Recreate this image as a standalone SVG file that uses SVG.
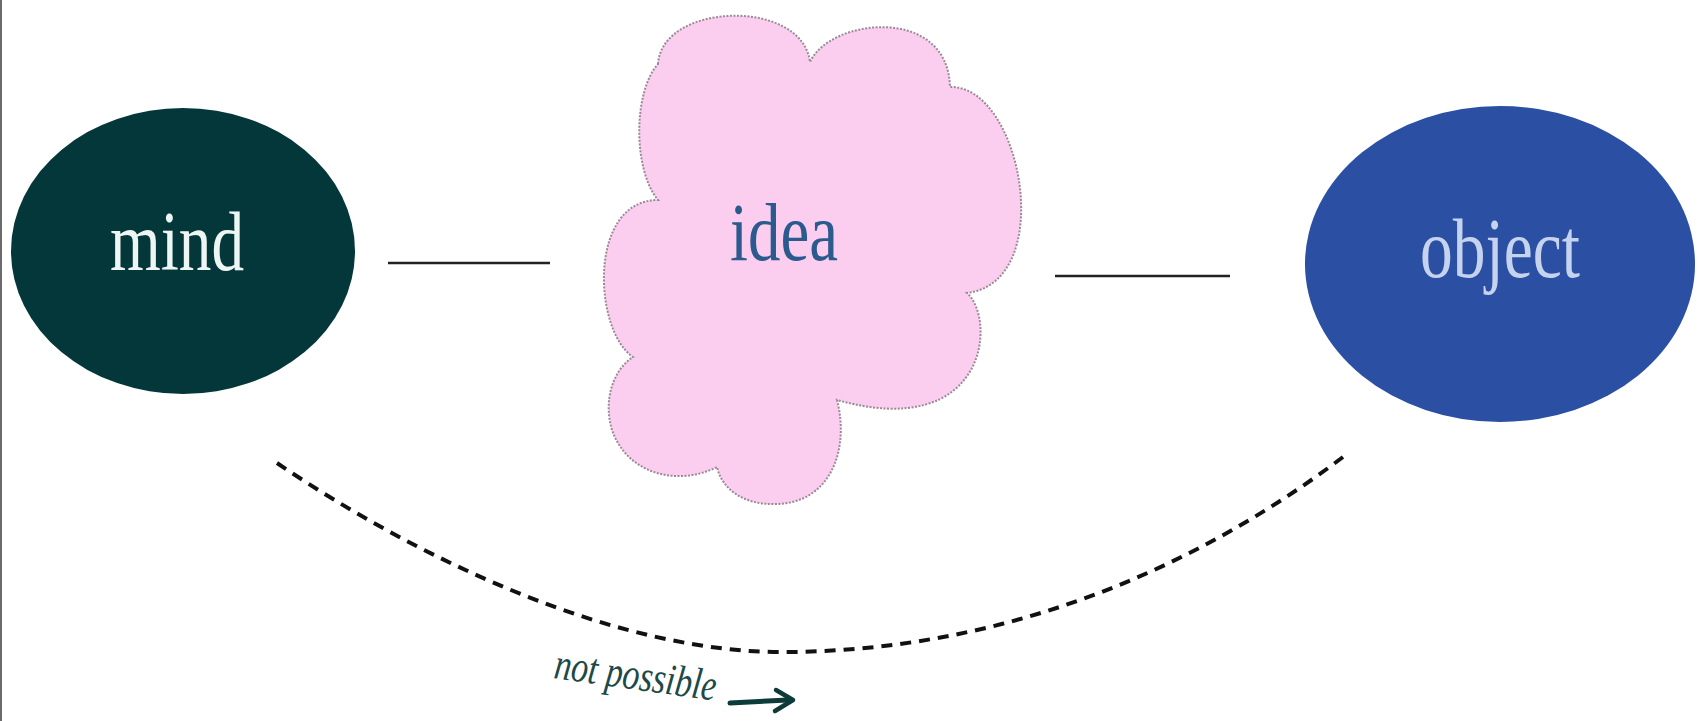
<svg xmlns="http://www.w3.org/2000/svg" width="1704" height="721" viewBox="0 0 1704 721">
  <style>
    .lbl { font-family: "Liberation Serif", "Times New Roman", serif; }
    .link { stroke: #222; stroke-width: 2.5; fill: none; }
    .dash { stroke: #111; stroke-width: 4; fill: none; stroke-dasharray: 11 8; }
    .arrow { stroke: #0d3b3a; fill: none; stroke-linecap: round; stroke-linejoin: round; }
  </style>
  <rect x="0" y="0" width="1704" height="721" fill="#ffffff"/>
  <rect x="0" y="0" width="2" height="721" fill="#6b6b6b"/>

  <g id="connectors">
    <line class="link" x1="388" y1="263" x2="550" y2="263"/>
    <line class="link" x1="1055" y1="276" x2="1230" y2="276"/>
    <path class="dash" d="M277,463 C420,560 620,655 790,652 C990,650 1180,580 1343,457"/>
    <text class="lbl" x="553" y="678" font-size="44" font-style="italic" fill="#1d4a46" textLength="163" lengthAdjust="spacingAndGlyphs" transform="rotate(8 553 678)">not possible</text>
    <path class="arrow" stroke-width="5" d="M730,703 L788,700"/>
    <path class="arrow" stroke-width="4.5" d="M776,690 L793,700 L775,711"/>
  </g>

  <g id="node-mind">
    <ellipse cx="183" cy="251" rx="172" ry="143" fill="#04373a"/>
    <text class="lbl" x="110" y="270" font-size="84" fill="#eef6f4" textLength="134" lengthAdjust="spacingAndGlyphs">mind</text>
  </g>

  <g id="node-idea">
    <path fill="#fbcdef" stroke="#9a8a96" stroke-width="2" stroke-dasharray="2 1.5"
      d="M658,64 C662,2 802,-2 810,62 C830,18 948,5 950,87 C1022,85 1058,282 967,293 C997,320 987,442 837,400 C850,450 830,504 775,504 C745,505 722,490 717,467 C680,486 628,476 612,430 C603,400 613,370 633,357 C593,330 588,200 658,200 C633,170 633,92 658,64 Z"/>
    <text class="lbl" x="730" y="260" font-size="82" fill="#2b5a8e" textLength="108" lengthAdjust="spacingAndGlyphs">idea</text>
  </g>

  <g id="node-object">
    <ellipse cx="1500" cy="264" rx="195" ry="158" fill="#2a4fa3"/>
    <text class="lbl" x="1420" y="277" font-size="84" fill="#c5d3ee" textLength="160" lengthAdjust="spacingAndGlyphs">object</text>
  </g>
</svg>
